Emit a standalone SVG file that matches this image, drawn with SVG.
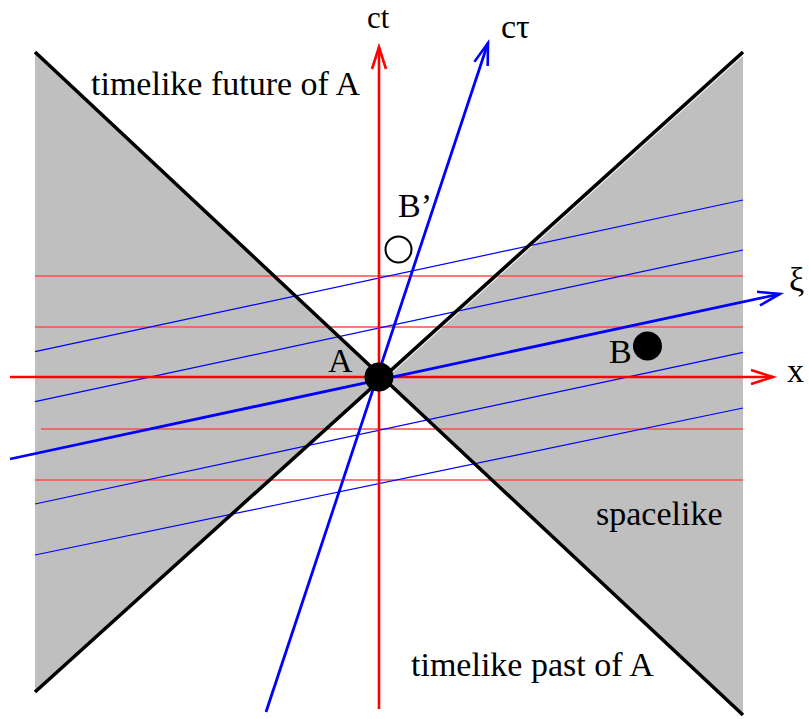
<svg xmlns="http://www.w3.org/2000/svg" width="809" height="719" viewBox="0 0 809 719">
  <style>
    .grey { fill: #bfbfbf; stroke: none; }
    .cone { stroke: #000; stroke-width: 3.5; fill: none; }
    .gridr { stroke: #ff4d4d; stroke-width: 1.3; fill: none; }
    .gridb { stroke: #0000ff; stroke-width: 1.2; fill: none; }
    .axr { stroke: #ff0000; stroke-width: 2.6; fill: none; }
    .axb { stroke: #0000ff; stroke-width: 2.8; fill: none; }
    text { font-family: "Liberation Serif", "Times New Roman", serif; font-size: 34px; fill: #000; }
    .small { font-size: 31px; }
  </style>
  <defs>
    <marker id="arrR" markerUnits="userSpaceOnUse" markerWidth="40" markerHeight="40" refX="0" refY="0" orient="auto" overflow="visible">
      <path d="M -22 -7 L 0 0 L -22 7" fill="none" stroke="#ff0000" stroke-width="2.6"/>
    </marker>
    <marker id="arrB" markerUnits="userSpaceOnUse" markerWidth="40" markerHeight="40" refX="0" refY="0" orient="auto" overflow="visible">
      <path d="M -22 -7 L 0 0 L -22 7" fill="none" stroke="#0000ff" stroke-width="2.6"/>
    </marker>
  </defs>

  <g id="regions">
    <polygon id="spacelike-left" class="grey" points="35,52 382.7,377.6 35,692"/>
    <polygon id="spacelike-right" class="grey" points="743,52 382.7,377.6 743,715"/>
    <line x1="390" y1="374.5" x2="743" y2="55.4" stroke="#fff" stroke-width="1"/>
  </g>

  <g id="connectors">
    <g id="grid-red">
      <line class="gridr" x1="35" y1="276" x2="743" y2="276"/>
      <line class="gridr" x1="35" y1="327" x2="743" y2="327"/>
      <line class="gridr" x1="41" y1="429" x2="743" y2="429"/>
      <line class="gridr" x1="35" y1="480" x2="743" y2="480"/>
    </g>
    <g id="grid-blue">
      <line class="gridb" x1="35" y1="351.7" x2="743" y2="200"/>
      <line class="gridb" x1="35" y1="401.7" x2="743" y2="250"/>
      <line class="gridb" x1="35" y1="504" x2="743" y2="352.3"/>
      <line class="gridb" x1="35" y1="555" x2="743" y2="408"/>
    </g>
    <g id="light-cone">
      <line class="cone" x1="35" y1="52" x2="743" y2="715"/>
      <line class="cone" x1="35" y1="692" x2="743" y2="52"/>
    </g>
    <g id="axes">
      <line id="axis-x" class="axr" x1="10" y1="377" x2="773" y2="377" marker-end="url(#arrR)"/>
      <line id="axis-ct" class="axr" x1="379" y1="709" x2="379" y2="47" marker-end="url(#arrR)"/>
      <line id="axis-ctau" class="axb" x1="266" y1="712" x2="488" y2="43" marker-end="url(#arrB)"/>
      <line id="axis-xi" class="axb" x1="10" y1="459" x2="780" y2="294" marker-end="url(#arrB)"/>
    </g>
  </g>

  <g id="event-A">
    <circle cx="379" cy="377" r="14.5" fill="#000"/>
    <text x="328" y="372">A</text>
  </g>
  <g id="event-B">
    <circle cx="647.5" cy="346" r="14.5" fill="#000"/>
    <text x="609" y="363">B</text>
  </g>
  <g id="event-Bprime">
    <circle cx="398.5" cy="249.5" r="13" fill="#fff" stroke="#000" stroke-width="2"/>
    <text x="398" y="217">B’</text>
  </g>

  <g id="labels">
    <text class="small" x="367" y="28">ct</text>
    <text x="501" y="38">cτ</text>
    <text x="789" y="291">ξ</text>
    <text x="787" y="382">x</text>
    <text x="91" y="95">timelike future of A</text>
    <text x="596" y="525">spacelike</text>
    <text x="411" y="676">timelike past of A</text>
  </g>
</svg>
